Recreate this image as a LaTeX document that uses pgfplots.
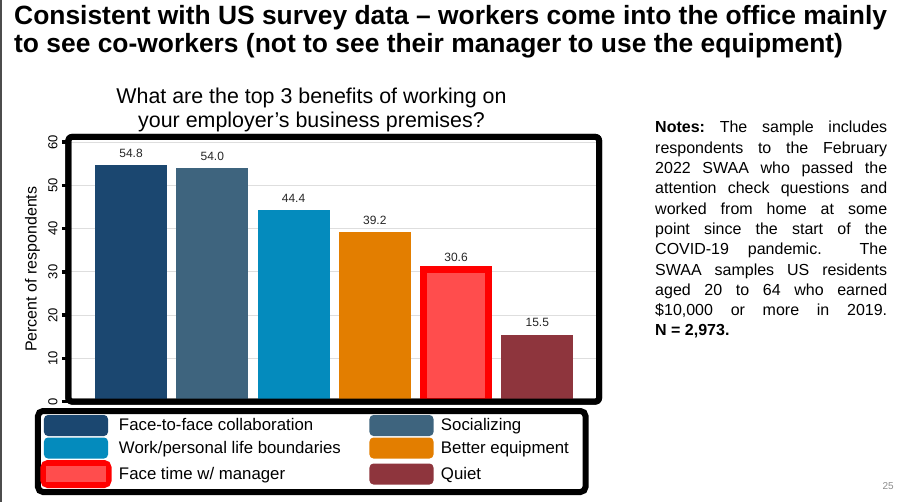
\documentclass[border=0pt]{standalone}
\usepackage{fontspec}
\setmainfont{Liberation Sans}
\usepackage{pgfplots}
\pgfplotsset{compat=1.18}
\definecolor{cA}{RGB}{27,71,112}
\definecolor{cB}{RGB}{62,100,126}
\definecolor{cC}{RGB}{4,139,189}
\definecolor{cD}{RGB}{227,126,0}
\definecolor{cE}{RGB}{255,77,77}
\definecolor{cEb}{RGB}{255,0,0}
\definecolor{cF}{RGB}{142,53,61}
\begin{document}
\frenchspacing
\begin{tikzpicture}
\path[use as bounding box] (0pt,0pt) rectangle (902pt,-502pt);
\draw[line width=1.2pt, black!70] (1pt,0pt) -- (1pt,-502pt);
\node[anchor=base west, inner sep=0pt, font=\fontsize{26.4}{28}\bfseries\selectfont] at (14pt,-25pt) {Consistent with US survey data – workers come into the office mainly};
\node[anchor=base west, inner sep=0pt, font=\fontsize{26.4}{28}\bfseries\selectfont] at (14pt,-53pt) {to see co-workers (not to see their manager to use the equipment)};
\node[anchor=base, inner sep=0pt, font=\fontsize{21.4}{24}\selectfont] at (311.5pt,-104pt) {What are the top 3 benefits of working on};
\node[anchor=base, inner sep=0pt, font=\fontsize{21.4}{24}\selectfont] at (311.5pt,-128pt) {your employer's business premises?};
\node[anchor=base west, inner sep=0pt, text width=232pt, align=justify, font=\fontsize{16}{20.3}\selectfont] at (655pt,-133pt)
{\textbf{Notes:} The sample includes\linebreak respondents to the February\linebreak 2022 SWAA who passed the\linebreak attention check questions and\linebreak worked from home at some\linebreak point since the start of the\linebreak COVID-19 pandemic.\ \ The\linebreak SWAA samples US residents\linebreak aged 20 to 64 who earned\linebreak \$10,000 or more in 2019.\linebreak \textbf{N = 2,973.}};
\node[anchor=base east, inner sep=0pt, font=\fontsize{10}{12}\selectfont, text=black!45] at (894pt,-489pt) {25};
\begin{axis}[
  at={(68.5pt,-401.5pt)}, anchor=south west,
  scale only axis, width=530.5pt, height=264.5pt,
  xmin=-0.77, xmax=5.76, ymin=0, ymax=61.2,
  xtick=\empty,
  ytick={0,10,20,30,40,50,60},
  ytick pos=left,
  tick align=outside,
  major tick length=6.5pt,
  tick style={black, line width=3.5pt},
  ymajorgrids,
  grid style={black!13, line width=0.9pt},
  axis line style={line width=6pt, black, rounded corners=3pt, line join=round},
  after end axis/.code={\draw[line width=6pt, black, rounded corners=3pt, line join=round] (rel axis cs:0,0) rectangle (rel axis cs:1,1);},
  /pgf/number format/assume math mode=true,
  yticklabel={\pgfmathprintnumber{\tick}},
  tick label style={font=\fontsize{13}{15}\selectfont},
  yticklabel style={xshift=-1pt, rotate=90, anchor=south, font=\fontsize{13}{15}\selectfont},
  ylabel={Percent of respondents},
  every axis y label/.style={at={(axis description cs:0,0.5)}, xshift=-36pt, rotate=90, anchor=center, font=\fontsize{16}{18}\selectfont},
  ybar, bar width=0.887, bar shift=0pt,
  nodes near coords,
  nodes near coords style={font=\fontsize{12}{14}\selectfont, text=black!85, outer sep=0.2pt, yshift=4pt, /pgf/number format/.cd, fixed, fixed zerofill, precision=1},
  legend columns=2,
  legend style={at={(0,0)}, anchor=north west, xshift=-30.5pt, yshift=-9.5pt, draw=black, line width=6pt, outer sep=0pt, rounded corners=5pt, inner xsep=2.5pt, inner ysep=4pt, column sep=5.5pt, row sep=1.5pt, font=\fontsize{16.8}{19}\selectfont},
]
\addplot[fill=cA, draw=none, bar shift=0pt, legend image code/.code={\fill[cA, rounded corners=4pt] (0pt,-4.5pt) rectangle (64pt,16.5pt);}] coordinates {(0,54.8)};
\addplot[fill=cB, draw=none, bar shift=0pt, legend image code/.code={\fill[cB, rounded corners=4pt] (0pt,-4.5pt) rectangle (64pt,16.5pt);}] coordinates {(1,54.0)};
\addplot[fill=cC, draw=none, bar shift=0pt, legend image code/.code={\fill[cC, rounded corners=4pt] (0pt,-4.5pt) rectangle (64pt,16.5pt);}] coordinates {(2,44.4)};
\addplot[fill=cD, draw=none, bar shift=0pt, legend image code/.code={\fill[cD, rounded corners=4pt] (0pt,-4.5pt) rectangle (64pt,16.5pt);}] coordinates {(3,39.2)};
\addplot[fill=cE, draw=cEb, line width=7pt, bar width=0.80, bar shift=0pt, legend image code/.code={\fill[cEb, rounded corners=4pt] (0pt,-4.5pt) rectangle (64pt,16.5pt); \fill[cE, sharp corners] (6pt,1.5pt) rectangle (58pt,10.5pt);}] coordinates {(4,30.6)};
\addplot[fill=cF, draw=none, bar shift=0pt, legend image code/.code={\fill[cF, rounded corners=4pt] (0pt,-4.5pt) rectangle (64pt,16.5pt);}] coordinates {(5,15.5)};
\legend{\smash{\makebox[243pt][l]{Face-to-face collaboration}}, \smash{\makebox[140pt][l]{Socializing}}, \smash{\makebox[243pt][l]{Work/personal life boundaries}}, \smash{\makebox[140pt][l]{Better equipment}}, \smash{\makebox[243pt][l]{Face time w/ manager}}, \smash{\makebox[140pt][l]{Quiet}}}
\end{axis}
\end{tikzpicture}
\end{document}
